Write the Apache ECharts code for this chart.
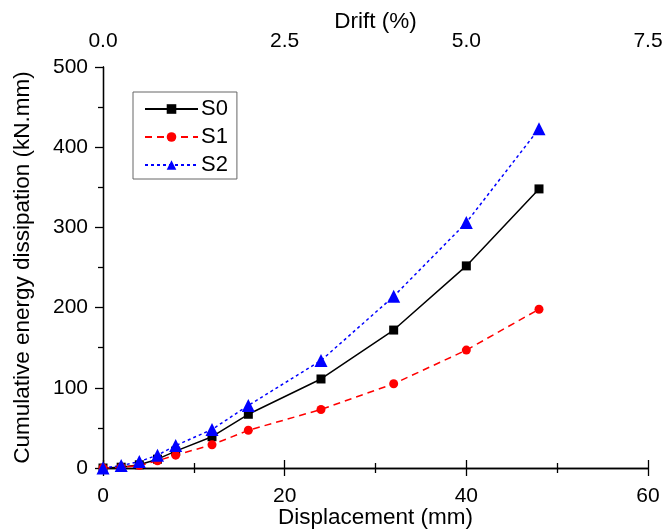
<!DOCTYPE html>
<html><head><meta charset="utf-8">
<script src="https://cdn.jsdelivr.net/npm/echarts@6/dist/echarts.min.js"></script>
<style>html,body{margin:0;padding:0;background:#fff}#c{width:667px;height:530px}</style>
</head><body><div id="c"></div>
<script>
const displacement = [0, 2, 4, 6, 8, 12, 16, 24, 32, 40, 48];
const s0 = [0, 1, 4, 11, 21, 39, 67, 111, 172, 252, 348];
const s1 = [0, 1, 3, 9, 16, 29, 47, 73, 105, 147, 198];
const s2 = [0, 3, 8, 16, 28, 48, 78, 134, 214, 306, 423];
const seriesNames = ['S0', 'S1', 'S2'];

const font = 'Liberation Sans, Arial, sans-serif';
const pair = (ys) => displacement.map((x, i) => [x, ys[i]]);
const axisCommon = {
  axisLine: {show: true, lineStyle: {color: '#000', width: 1.3}},
  axisTick: {show: true, inside: false, length: 8, lineStyle: {color: '#000', width: 1.3}},
  minorTick: {show: true, splitNumber: 2, length: 5, lineStyle: {color: '#000', width: 1.3}},
  splitLine: {show: false},
  nameMoveOverlap: false,
  axisLabel: {color: '#000', fontSize: 21, fontFamily: font},
  nameTextStyle: {color: '#000', fontSize: 22.5, fontFamily: font}
};
const chart = echarts.init(document.getElementById('c'));
chart.setOption({
  animation: false,
  backgroundColor: '#fff',
  grid: {left: 103, right: 19, top: 67, bottom: 62, containLabel: false, outerBoundsMode: 'none'},
  legend: {
    left: 133, top: 92, orient: 'vertical',
    data: seriesNames,
    itemWidth: 53, itemHeight: 12, itemGap: 6,
    padding: [6, 9, 3, 11],
    borderColor: '#666', borderWidth: 1,
    textStyle: {color: '#000', fontSize: 22, fontFamily: font, padding: [0, 0, 0, -2]}
  },
  xAxis: [
    Object.assign({}, axisCommon, {
      type: 'value', position: 'bottom', min: 0, max: 60, interval: 20,
      name: 'Displacement (mm)', nameLocation: 'middle', nameGap: 38,
      axisLabel: Object.assign({}, axisCommon.axisLabel, {margin: 18})
    }),
    Object.assign({}, axisCommon, {
      type: 'value', position: 'top', min: 0, max: 7.5, interval: 2.5,
      name: 'Drift (%)', nameLocation: 'middle', nameGap: 34,
      axisLabel: Object.assign({}, axisCommon.axisLabel, {margin: 15, formatter: v => v.toFixed(1)})
    })
  ],
  yAxis: [
    Object.assign({}, axisCommon, {
      type: 'value', position: 'left', min: 0, max: 500, interval: 100,
      name: 'Cumulative energy dissipation (kN.mm)', nameLocation: 'middle', nameGap: 69,
      axisLabel: Object.assign({}, axisCommon.axisLabel, {margin: 15})
    }),
    {
      type: 'value', position: 'right', min: 0, max: 500,
      axisLine: {show: true, lineStyle: {color: '#000', width: 1.3}},
      axisTick: {show: false}, axisLabel: {show: false}, splitLine: {show: false}
    }
  ],
  series: [
    {name: 'S0', type: 'line', xAxisIndex: 0, yAxisIndex: 0, data: pair(s0),
     symbol: 'rect', symbolSize: 9, color: '#000',
     lineStyle: {color: '#000', width: 1.5, type: 'solid'},
     itemStyle: {color: '#000'}},
    {name: 'S1', type: 'line', xAxisIndex: 0, yAxisIndex: 0, data: pair(s1),
     symbol: 'circle', symbolSize: 9, color: '#ff0000',
     lineStyle: {color: '#ff0000', width: 1.5, type: [7, 5]},
     itemStyle: {color: '#ff0000'}},
    {name: 'S2', type: 'line', xAxisIndex: 0, yAxisIndex: 0, data: pair(s2),
     symbol: 'triangle', symbolSize: 13, color: '#0000ff',
     lineStyle: {color: '#0000ff', width: 1.5, type: [3, 3]},
     itemStyle: {color: '#0000ff'}}
  ]
});
</script></body></html>
